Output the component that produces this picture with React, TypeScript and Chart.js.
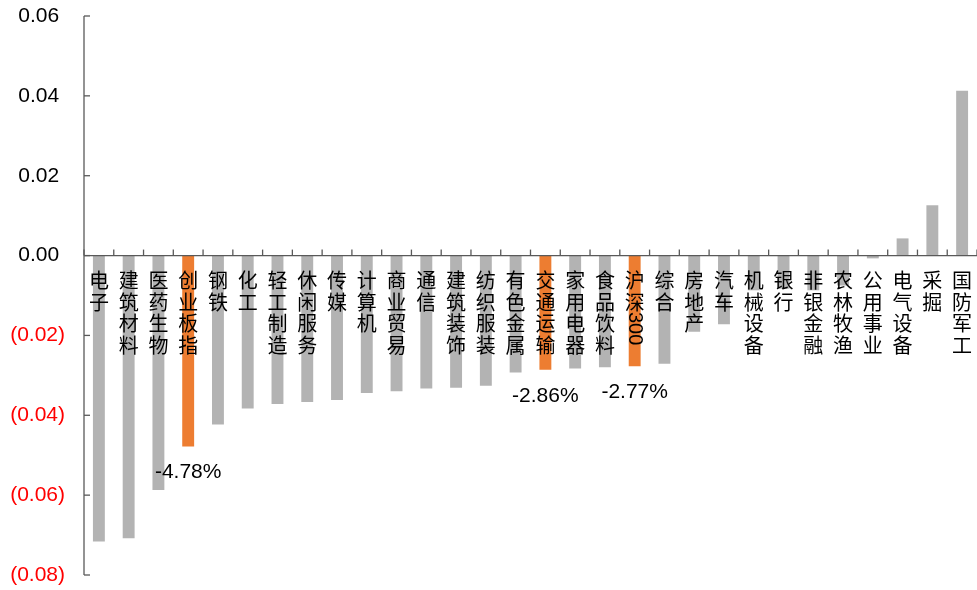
import React, { useEffect, useRef } from 'react';
import { Chart, registerables } from 'chart.js';

Chart.register(...registerables);

const categories = [
  '电子', '建筑材料', '医药生物', '创业板指', '钢铁', '化工', '轻工制造', '休闲服务', '传媒', '计算机',
  '商业贸易', '通信', '建筑装饰', '纺织服装', '有色金属', '交通运输', '家用电器', '食品饮料', '沪深300', '综合',
  '房地产', '汽车', '机械设备', '银行', '非银金融', '农林牧渔', '公用事业', '电气设备', '采掘', '国防军工',
];

const values = [
  -0.0716, -0.0708, -0.0587, -0.0478, -0.0423, -0.0383, -0.0372, -0.0367, -0.0362, -0.0344,
  -0.0340, -0.0333, -0.0331, -0.0326, -0.0293, -0.0286, -0.0283, -0.0280, -0.0277, -0.0271,
  -0.0191, -0.0172, -0.0087, -0.0083, -0.0087, -0.0075, -0.0007, 0.0043, 0.0126, 0.0413,
];

const highlighted = ['创业板指', '交通运输', '沪深300'];
const annotatedCategories = ['创业板指', '交通运输', '沪深300'];
const annotationTexts = ['-4.78%', '-2.86%', '-2.77%'];

const yMin = -0.08;
const yMax = 0.06;
const yStep = 0.02;

const GRAY = '#b3b3b3';
const ORANGE = '#ed7d31';
const AXIS = '#595959';
const FONT = '"Liberation Sans", "Noto Sans CJK SC", sans-serif';

const overlayPlugin = {
  id: 'overlay',
  afterDatasetsDraw(chart: any) {
    const { ctx, chartArea, scales } = chart;
    const xs = scales.x;
    const ys = scales.y;
    const y0 = ys.getPixelForValue(0);
    const n = categories.length;
    const step = (chartArea.right - chartArea.left) / n;
    ctx.save();
    ctx.strokeStyle = AXIS;
    ctx.lineWidth = 1.3;
    // y axis line
    ctx.beginPath();
    ctx.moveTo(chartArea.left, ys.getPixelForValue(yMax));
    ctx.lineTo(chartArea.left, ys.getPixelForValue(yMin));
    ctx.stroke();
    // y ticks (inward)
    ys.ticks.forEach((t: any) => {
      const py = ys.getPixelForValue(t.value);
      ctx.beginPath();
      ctx.moveTo(chartArea.left, py);
      ctx.lineTo(chartArea.left + 6, py);
      ctx.stroke();
    });
    // zero line
    ctx.beginPath();
    ctx.moveTo(chartArea.left, y0);
    ctx.lineTo(chartArea.right, y0);
    ctx.stroke();
    // x ticks (upward)
    for (let i = 0; i <= n; i++) {
      const px = xs.getPixelForValue(Math.min(i, n - 1)) + (i === n ? step / 2 : -step / 2);
      ctx.beginPath();
      ctx.moveTo(px, y0);
      ctx.lineTo(px, y0 - 6);
      ctx.stroke();
    }
    // category labels (vertical)
    ctx.fillStyle = '#000';
    ctx.font = '20px ' + FONT;
    const pitch = 21.7;
    const top = y0 + 16;
    categories.forEach((cat, i) => {
      const px = xs.getPixelForValue(i);
      const m = cat.match(/^([^\x00-\x7f]*)([\x00-\x7f]*)$/);
      const cjk = m ? m[1] : cat;
      const ascii = m ? m[2] : '';
      const chars = Array.from(cjk);
      ctx.textAlign = 'center';
      ctx.textBaseline = 'middle';
      chars.forEach((ch, k) => {
        ctx.fillText(ch, px, top + k * pitch + pitch / 2);
      });
      if (ascii) {
        ctx.save();
        ctx.translate(px, top + chars.length * pitch - 3);
        ctx.rotate(Math.PI / 2);
        ctx.textAlign = 'left';
        ctx.textBaseline = 'middle';
        ctx.fillText(ascii, 0, 0);
        ctx.restore();
      }
    });
    // data annotations
    ctx.font = '21px ' + FONT;
    ctx.textAlign = 'center';
    ctx.textBaseline = 'middle';
    annotatedCategories.forEach((cat, j) => {
      const i = categories.indexOf(cat);
      const px = xs.getPixelForValue(i);
      const py = ys.getPixelForValue(values[i]) + 26;
      ctx.fillText(annotationTexts[j], px, py);
    });
    ctx.restore();
  },
};

export default function App() {
  const ref = useRef<HTMLCanvasElement | null>(null);
  useEffect(() => {
    if (!ref.current) return;
    const chart = new Chart(ref.current, {
      type: 'bar',
      data: {
        labels: categories,
        datasets: [
          {
            data: values,
            backgroundColor: categories.map((c) => (highlighted.includes(c) ? ORANGE : GRAY)),
            barPercentage: 0.4,
            categoryPercentage: 1,
          },
        ],
      },
      options: {
        animation: false,
        responsive: true,
        maintainAspectRatio: false,
        layout: { padding: { left: 0, top: 16, right: 0, bottom: 15 } },
        plugins: { legend: { display: false }, tooltip: { enabled: false } },
        scales: {
          x: { display: false },
          y: {
            min: yMin,
            max: yMax,
            grid: { display: false, drawTicks: false },
            border: { display: false },
            afterFit: (scale: any) => {
              scale.width = 84;
              scale.paddingTop = 0;
              scale.paddingBottom = 0;
            },
            ticks: {
              stepSize: yStep,
              padding: 19,
              font: { size: 21, family: FONT },
              color: (c: any) => (c.tick && c.tick.value < -1e-9 ? '#ff0000' : '#000000'),
              callback: (v: any) => {
                const num = Number(v);
                if (num < -1e-9) return '(' + Math.abs(num).toFixed(2) + ')';
                return Math.abs(num).toFixed(2) + ' ';
              },
            },
          },
        },
      },
      plugins: [overlayPlugin],
    });
    return () => chart.destroy();
  }, []);
  return (
    <div style={{ position: 'absolute', left: 0, top: 0, width: 977, height: 590 }}>
      <canvas ref={ref} />
    </div>
  );
}
